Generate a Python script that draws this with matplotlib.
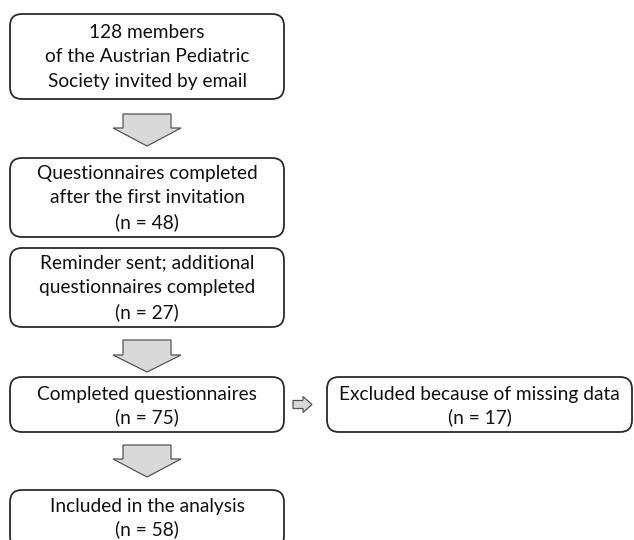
import matplotlib
matplotlib.use("Agg")
import matplotlib.pyplot as plt
from matplotlib.patches import FancyBboxPatch, Polygon

plt.rcParams['font.family'] = ['Lato', 'DejaVu Sans']

# flow steps, top to bottom
main_labels = [
    "128 members\nof the Austrian Pediatric\nSociety invited by email",
    "Questionnaires completed\nafter the first invitation\n(n = 48)",
    "Reminder sent; additional\nquestionnaires completed\n(n = 27)",
    "Completed questionnaires\n(n = 75)",
    "Included in the analysis\n(n = 58)",
]
side_label = "Excluded because of missing data\n(n = 17)"

# box extents in pixels (top, bottom) and text centre
main_y = [(14, 99), (158, 237), (248, 327), (377, 432), (490, 548)]
text_y = [57, 198, 288, 406, 518]
main_x = (10, 284)
side_x = (327, 632)
side_y = (377, 432)
# down arrows between boxes: (shaft top, head start, tip)
down_arrows = [(114, 128, 146), (340, 355, 372), (445, 459, 477)]

fig = plt.figure(figsize=(6.34, 5.4), dpi=100)
ax = fig.add_axes([0, 0, 1, 1])
ax.set_xlim(0, 634)
ax.set_ylim(540, 0)
ax.axis('off')

edge = '#2b2b2b'
fill = '#d9d9d9'


def box(x0, x1, y0, y1, yc, text, ls):
    r = 12
    p = FancyBboxPatch((x0 + r, y0 + r), (x1 - x0) - 2 * r, (y1 - y0) - 2 * r,
                       boxstyle="round,pad=%d" % r, fc='white', ec=edge, lw=1.3)
    ax.add_patch(p)
    ax.text((x0 + x1) / 2, yc, text, ha='center', va='center', fontsize=13.8,
            linespacing=ls, color='#111111')


for (y0, y1), yc, lab in zip(main_y, text_y, main_labels):
    box(main_x[0], main_x[1], y0, y1, yc, lab, 1.52 if lab.count('\n') == 2 else 1.38)
box(side_x[0], side_x[1], side_y[0], side_y[1], 406, side_label, 1.38)

cx = (main_x[0] + main_x[1]) / 2
for top, hs, tip in down_arrows:
    sw, hw = 24, 34
    pts = [(cx - sw, top), (cx + sw, top), (cx + sw, hs), (cx + hw, hs),
           (cx, tip), (cx - hw, hs), (cx - sw, hs)]
    ax.add_patch(Polygon(pts, closed=True, fc=fill, ec='#555555', lw=0.9))

# small right arrow to exclusion box
ay = (side_y[0] + side_y[1]) / 2
pts = [(293, ay - 4), (303, ay - 4), (303, ay - 8), (312, ay), (303, ay + 8),
       (303, ay + 4), (293, ay + 4)]
ax.add_patch(Polygon(pts, closed=True, fc=fill, ec='#555555', lw=0.9))

fig.savefig('out.png', dpi=100)
